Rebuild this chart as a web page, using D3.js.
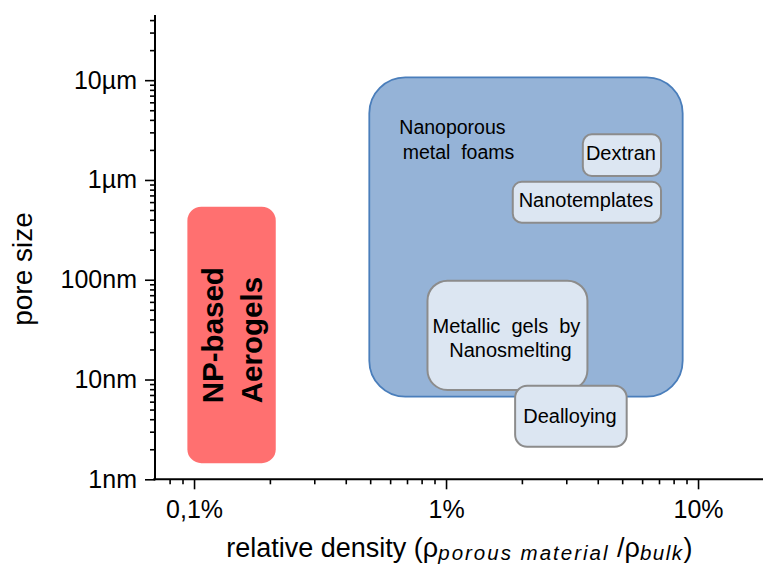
<!DOCTYPE html>
<html><head><meta charset="utf-8">
<script src="https://cdn.jsdelivr.net/npm/d3@7"></script>
<style>
body{margin:0;background:#fff}
svg{display:block}
text{font-family:"Liberation Sans",Arial,sans-serif;white-space:pre}
</style>
</head><body><svg id="c" width="763" height="574"></svg>
<script>
// ---- data ----
const xTickValues = [0.1, 1, 10];
const xTickLabels = ["0,1%", "1%", "10%"];
const yTickValues = [1, 10, 100, 1000, 10000];           // nm
const yTickLabels = ["1nm", "10nm", "100nm", "1µm", "10µm"];
const regionNames = ["Nanoporous metal foams", "NP-based Aerogels", "Dextran", "Nanotemplates", "Metallic gels by Nanosmelting", "Dealloying"];
const regionLines = [["Nanoporous", "metal  foams"], ["NP-based", "Aerogels"], ["Dextran"], ["Nanotemplates"], ["Metallic  gels  by", "Nanosmelting"], ["Dealloying"]];
const densityMin = [0.496, 0.0941, 3.49, 1.84, 0.844, 1.88];   // %
const densityMax = [8.69, 0.211, 7.13, 7.13, 3.64, 5.21];
const poreMin = [6.73, 1.45, 1095, 373, 7.85, 2.12];          // nm
const poreMax = [10690, 540, 2868, 960, 97.8, 8.67];

// ---- layout ----
const svg = d3.select("#c");
const x = d3.scaleLog().domain([0.07, 20]).range([155, 773.9]);
const y = d3.scaleLog().domain([1, 45000]).range([479.3, 15]);

function minorTicks(dom) {
  const out = [];
  for (let e = -3; e <= 6; e++) for (let m = 2; m <= 9; m++) {
    const v = m * Math.pow(10, e);
    if (v >= dom[0] * 1.0001 && v <= dom[1] * 0.9999) out.push(v);
  }
  return out;
}
const xMinor = minorTicks([0.07, 20]);
const yMinor = minorTicks([1, 45000]);

// ---- regions ----
const fills = ["#95B3D7", "#FF7070", "#DCE6F2", "#DCE6F2", "#DCE6F2", "#DCE6F2"];
const strokes = ["#4A7EBB", "none", "#8C8C8C", "#8C8C8C", "#8C8C8C", "#8C8C8C"];
const radii = [36, 14, 9, 9, 20, 12];
const idx = d3.range(regionNames.length);
const g = svg.append("g");
g.selectAll("rect").data(idx).join("rect")
  .attr("x", i => x(densityMin[i]))
  .attr("y", i => y(poreMax[i]))
  .attr("width", i => x(densityMax[i]) - x(densityMin[i]))
  .attr("height", i => y(poreMin[i]) - y(poreMax[i]))
  .attr("rx", i => radii[i]).attr("ry", i => radii[i])
  .attr("fill", i => fills[i])
  .attr("stroke", i => strokes[i])
  .attr("stroke-width", i => i === 0 ? 1.8 : 2);

// blue box label: left aligned
{
  const i = 0;
  const lx = x(densityMin[i]) + 30, ly = y(poreMax[i]) + 57;
  regionLines[i].forEach((t, k) => {
    g.append("text").attr("x", lx + (k ? 3.4 : 0)).attr("y", ly + k * 25)
      .attr("font-size", 19.5).attr("fill", "#000").text(t);
  });
}
// red box label: rotated bold
{
  const i = 1;
  const bx = x(densityMin[i]), by = y(poreMin[i]);
  regionLines[i].forEach((t, k) => {
    g.append("text")
      .attr("transform", `translate(${bx + 35.7 + k * 39},${by - 60}) rotate(-90)`)
      .attr("font-size", 29.5).attr("font-weight", "bold").attr("fill", "#000").text(t);
  });
}
// small boxes: centered
const vOff = {2: 4.5, 3: 4.5, 4: 9.7, 5: 7};
[2, 3, 4, 5].forEach(i => {
  const cx = (x(densityMin[i]) + x(densityMax[i])) / 2;
  const cy = (y(poreMin[i]) + y(poreMax[i])) / 2 + vOff[i];
  const n = regionLines[i].length;
  regionLines[i].forEach((t, k) => {
    g.append("text").attr("x", cx + (i === 4 && k === 1 ? 3 : -1))
      .attr("y", cy + (k - (n - 1) / 2) * 24.6)
      .attr("text-anchor", "middle").attr("font-size", 20).attr("fill", "#000").text(t);
  });
});

// ---- axes ----
const ax = svg.append("g").attr("transform", "translate(0,479.3)");
ax.call(d3.axisBottom(x).tickValues(xMinor).tickSize(5).tickFormat("").tickSizeOuter(0));
ax.call(g2 => g2.select(".domain").remove());
const axM = svg.append("g").attr("transform", "translate(0,479.3)");
axM.call(d3.axisBottom(x).tickValues(xTickValues).tickSize(10).tickPadding(10.7)
  .tickFormat((d, k) => xTickLabels[k]).tickSizeOuter(0));
axM.select(".domain").attr("stroke-width", 2).attr("d", "M153.3,0H763");

const ay = svg.append("g").attr("transform", "translate(155,0)");
ay.call(d3.axisLeft(y).tickValues(yMinor).tickSize(5).tickFormat("").tickSizeOuter(0));
ay.call(g2 => g2.select(".domain").remove());
const ayM = svg.append("g").attr("transform", "translate(155,0)");
ayM.call(d3.axisLeft(y).tickValues(yTickValues).tickSize(10).tickPadding(8)
  .tickFormat((d, k) => yTickLabels[k]).tickSizeOuter(0));
ayM.select(".domain").attr("stroke-width", 2).attr("d", "M0,15V480.3");

svg.selectAll(".tick line").attr("stroke", "#000").attr("stroke-width", 1.6);
svg.selectAll(".tick text").attr("font-size", 25).attr("fill", "#000")
  .attr("font-family", "'Liberation Sans',Arial,sans-serif");

// ---- titles ----
svg.append("text")
  .attr("transform", "translate(32,269) rotate(-90)")
  .attr("text-anchor", "middle").attr("font-size", 28).attr("fill", "#000")
  .text("pore size");

const xt = svg.append("text").attr("x", 459.4).attr("y", 557)
  .attr("text-anchor", "middle").attr("font-size", 27).attr("fill", "#000");
xt.append("tspan").text("relative density (ρ");
xt.append("tspan").attr("font-size", 20.5).attr("font-style", "italic").attr("dy", 3).attr("letter-spacing", 2).text("porous material");
xt.append("tspan").attr("dy", -3).text(" /ρ");
xt.append("tspan").attr("font-size", 20.5).attr("font-style", "italic").attr("dy", 3).attr("letter-spacing", 1.5).text("bulk");
xt.append("tspan").attr("dy", -3).text(")");
</script>
</body></html>
